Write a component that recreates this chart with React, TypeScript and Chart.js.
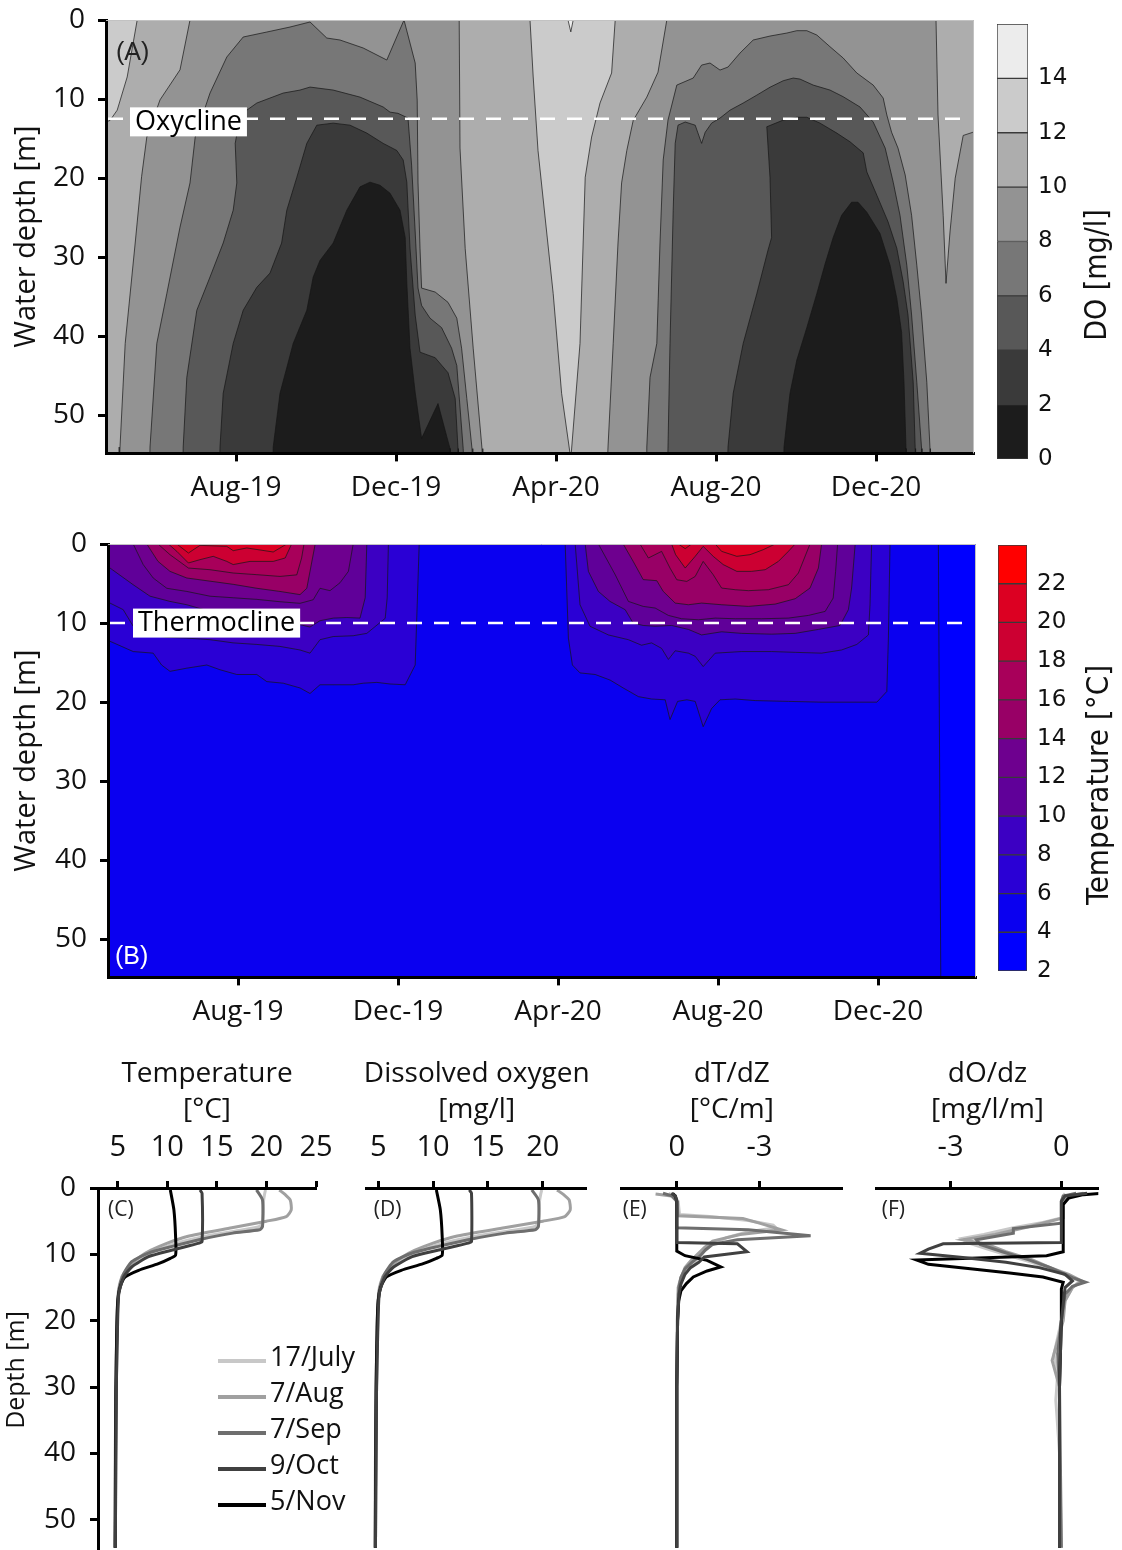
import React, { useEffect, useRef } from 'react';
import { Chart, registerables } from 'chart.js';

Chart.register(...registerables);

type Pt = [number, number];

const SANS = '"Open Sans", "DejaVu Sans", Arial, sans-serif';
const WIDE = '"DejaVu Sans", Verdana, sans-serif';
const NARROW = '"DejaVu Sans Condensed", "Liberation Sans Narrow", "Arial Narrow", sans-serif';

// ===== shared axes (time = months since Jan-2019, depth in m) =====
const timeTickValues = [7, 11, 15, 19, 23];
const timeTickLabels = ['Aug-19', 'Dec-19', 'Apr-20', 'Aug-20', 'Dec-20'];
const timeMin = 3.75;
const timeMax = 25.45;
const depthMax = 54.8;
const depthTicks = [0, 10, 20, 30, 40, 50];

// ===== Panel A : dissolved oxygen contours =====
const doLevels = [0, 2, 4, 6, 8, 10, 12, 14, 16];
const doColors = ['#1c1c1c', '#3a3a3a', '#585858', '#777777', '#939393', '#adadad', '#cbcbcb', '#ececec'];
const doTickValues = [0, 2, 4, 6, 8, 10, 12, 14];
const oxyclineDepth = 12.5;
const oxyclineSpan = [3.8, 25.2];

const DO_BACKGROUND_8_10: Pt[] = [[3.5, -2], [26, -2], [26, 57], [3.5, 57]];
const DO_10_12_JUN19: Pt[] = [[3.5, -2], [5.9, -2], [5.85, 0], [5.6, 6.3], [5.1, 10.1], [4.77, 14.8], [4.64, 19.8], [4.48, 28.2], [4.23, 40.9], [4.1, 54], [4.08, 57], [3.5, 57]];
const DO_12_14_JUN19: Pt[] = [[3.5, -2], [4.55, -2], [4.53, 0], [4.28, 7.2], [4.03, 11.4], [3.85, 12.7], [3.5, 13.3]];
const DO_10_12_WINTER: Pt[] = [[12.58, -2], [12.58, 0], [12.6, 16.2], [12.73, 28.9], [12.93, 41.5], [13.15, 54.2], [13.17, 57], [16.28, 57], [16.3, 54], [16.43, 40.9], [16.55, 28.2], [16.64, 20.6], [16.77, 16.5], [16.93, 12.7], [17.27, 9.75], [17.55, 6.6], [17.77, 0], [17.78, -2]];
const DO_12_14_SPRING: Pt[] = [[14.34, -2], [14.35, 0], [14.43, 7.2], [14.55, 16.5], [14.93, 34.6], [15.14, 47.2], [15.37, 55.5], [15.6, 40.9], [15.73, 19.9], [15.89, 14.8], [16.1, 10.5], [16.39, 6.7], [16.48, 0], [16.49, -2]];
const DO_14_16_SPRING: Pt[] = [[15.28, -2], [15.3, 0], [15.37, 1.5], [15.43, 0], [15.45, -2]];
const DO_10_12_FEB21: Pt[] = [[24.5, -2], [24.5, 0], [24.55, 12], [24.68, 24.7], [24.75, 33.3], [24.85, 26.8], [24.98, 20], [25.18, 14.6], [25.42, 14.2], [25.7, 14.1], [25.7, -2]];
const DO_6_8_2019: Pt[] = [[4.84, 57], [4.85, 54], [5.02, 40.9], [5.27, 34.6], [5.6, 26.2], [5.85, 20.6], [5.98, 14.8], [6.35, 9.24], [6.77, 4.68], [7.18, 2.15], [7.77, 1.52], [8.35, 0.89], [8.85, 0.25], [9.27, 2.28], [9.6, 2.53], [10.18, 3.54], [10.77, 5.06], [11.2, 0], [11.48, 5.44], [11.53, 10.13], [11.55, 20.5], [11.6, 28.86], [11.64, 33.9], [11.98, 34.4], [12.3, 35.7], [12.52, 37.7], [12.64, 41.5], [12.77, 47.85], [12.9, 54.2], [12.92, 57]];
const DO_4_6_2019: Pt[] = [[5.67, 57], [5.68, 54], [5.77, 45.2], [6.02, 36.7], [6.35, 32.5], [6.68, 28.2], [6.93, 24.05], [7.02, 20.6], [6.98, 15.6], [7.1, 12.3], [7.27, 11.4], [7.52, 10.5], [8.18, 9.24], [8.6, 8.86], [8.85, 8.48], [9.43, 8.86], [10.1, 9.75], [10.68, 11.0], [10.85, 11.65], [11.05, 11.8], [11.3, 12.4], [11.39, 18.35], [11.48, 26.8], [11.55, 33.9], [11.64, 36.1], [11.85, 37.7], [12.14, 38.9], [12.39, 41.5], [12.52, 43.7], [12.68, 54.2], [12.7, 57]];
const DO_2_4_2019: Pt[] = [[6.59, 57], [6.6, 54], [6.68, 47.2], [6.93, 40.9], [7.18, 36.7], [7.52, 33.8], [7.85, 32.0], [8.14, 28.2], [8.27, 24.05], [8.52, 19.9], [8.77, 15.6], [9.02, 13.3], [9.43, 13.04], [9.85, 13.3], [10.27, 14.3], [10.68, 15.6], [11.02, 16.5], [11.18, 17.7], [11.27, 20.5], [11.35, 28.86], [11.48, 37.3], [11.6, 42.0], [11.98, 42.7], [12.3, 44.6], [12.48, 47.85], [12.55, 54.2], [12.56, 57]];
const DO_0_2_2019: Pt[] = [[7.92, 57], [7.93, 54], [8.1, 47.2], [8.43, 40.9], [8.77, 36.7], [8.93, 32.5], [9.1, 30.4], [9.43, 28.2], [9.77, 24.05], [10.1, 21.1], [10.35, 20.5], [10.6, 20.9], [10.85, 21.9], [11.1, 24.05], [11.23, 27.5], [11.27, 33.2], [11.35, 41.5], [11.48, 47.1], [11.64, 52.9], [12.05, 48.5], [12.35, 54.2], [12.36, 57]];
const DO_6_8_2020: Pt[] = [[17.26, 57], [17.27, 54], [17.35, 45.2], [17.52, 40.9], [17.6, 28.2], [17.68, 17.7], [17.8, 12.66], [18.02, 8.23], [18.43, 7.34], [18.64, 5.7], [18.85, 5.44], [19.1, 6.33], [19.3, 5.95], [19.6, 4.18], [19.93, 2.53], [20.35, 2.03], [20.77, 1.65], [21.02, 1.35], [21.27, 1.35], [21.52, 1.9], [21.85, 3.38], [22.18, 4.81], [22.52, 6.7], [22.93, 8.23], [23.18, 9.87], [23.27, 12.0], [23.39, 14.2], [23.55, 16.2], [23.73, 19.6], [23.89, 24.7], [24.02, 31.0], [24.14, 37.3], [24.27, 45.8], [24.35, 54.2], [24.36, 57]];
const DO_4_6_2020: Pt[] = [[17.79, 57], [17.8, 54], [17.85, 40.9], [17.93, 24.05], [17.98, 15.6], [18.05, 13.3], [18.23, 12.9], [18.48, 13.3], [18.64, 15.6], [18.73, 14.2], [18.89, 13.04], [19.1, 12.4], [19.35, 11.4], [19.68, 10.5], [20.02, 9.5], [20.35, 8.5], [20.68, 7.68], [20.93, 7.34], [21.1, 7.47], [21.43, 8.23], [21.85, 8.86], [22.18, 9.7], [22.6, 11.0], [22.93, 12.9], [23.23, 16.2], [23.43, 20.5], [23.6, 24.7], [23.77, 31.0], [23.89, 37.3], [24.02, 45.8], [24.14, 54.2], [24.15, 57]];
const DO_2_4_2020: Pt[] = [[19.29, 57], [19.3, 54], [19.43, 47.2], [19.68, 40.9], [20.02, 34.6], [20.3, 29.1], [20.39, 27.5], [20.35, 19.9], [20.27, 13.5], [20.68, 12.66], [21.02, 12.3], [21.27, 12.3], [21.6, 13.04], [22.02, 14.3], [22.35, 15.4], [22.68, 16.8], [22.77, 19.2], [23.02, 22.15], [23.3, 25.5], [23.52, 28.86], [23.68, 33.1], [23.8, 37.3], [23.93, 45.8], [23.98, 54.2], [23.99, 57]];
const DO_0_2_2020: Pt[] = [[20.69, 57], [20.7, 54], [20.85, 47.2], [21.02, 43.0], [21.27, 38.9], [21.52, 34.6], [21.73, 30.8], [21.93, 27.5], [22.14, 24.7], [22.39, 23.04], [22.55, 23.04], [22.77, 24.3], [23.1, 27.0], [23.35, 31.0], [23.52, 35.2], [23.64, 39.5], [23.7, 45.8], [23.75, 54.2], [23.76, 57]];

// band index refers to doLevels (band k = doLevels[k]..doLevels[k+1]); listed in paint order
const doRegions = [
  { band: 4, poly: DO_BACKGROUND_8_10 },
  { band: 5, poly: DO_10_12_JUN19 },
  { band: 6, poly: DO_12_14_JUN19 },
  { band: 5, poly: DO_10_12_WINTER },
  { band: 6, poly: DO_12_14_SPRING },
  { band: 7, poly: DO_14_16_SPRING },
  { band: 5, poly: DO_10_12_FEB21 },
  { band: 3, poly: DO_6_8_2019 },
  { band: 2, poly: DO_4_6_2019 },
  { band: 1, poly: DO_2_4_2019 },
  { band: 0, poly: DO_0_2_2019 },
  { band: 3, poly: DO_6_8_2020 },
  { band: 2, poly: DO_4_6_2020 },
  { band: 1, poly: DO_2_4_2020 },
  { band: 0, poly: DO_0_2_2020 },
];

// ===== Panel B : temperature contours =====
const tempLevels = [2, 4, 6, 8, 10, 12, 14, 16, 18, 20, 22, 24];
const tempColors = ['#0000ff', '#0a00f0', '#2a00d5', '#3c00c3', '#600099', '#6e008f', '#980066', '#a8005a', '#cc0032', '#dc0022', '#ff0000'];
const tempTickValues = [2, 4, 6, 8, 10, 12, 14, 16, 18, 20, 22];
const thermoclineDepth = 10;
const thermoclineSpan = [3.8, 25.25];

const T_BACKGROUND_4_6: Pt[] = [[3.5, -2], [26, -2], [26, 57], [3.5, 57]];
const T_2_4_FEB21: Pt[] = [[24.51, -2], [24.51, 0], [24.57, 55], [24.57, 57], [26, 57], [26, -2]];
const T_6_8_2019: Pt[] = [[3.5, -2], [3.5, 12.3], [3.8, 12.3], [4.38, 13.6], [4.88, 13.8], [5.09, 15.3], [5.3, 16.1], [5.72, 15.7], [6.22, 15.3], [6.55, 15.9], [6.97, 16.5], [7.47, 16.5], [7.72, 17.4], [8.13, 17.6], [8.55, 18.2], [8.8, 18.9], [9.05, 17.8], [9.38, 17.8], [9.88, 17.8], [10.13, 17.6], [10.47, 17.5], [10.8, 17.7], [11.18, 17.8], [11.43, 15.3], [11.48, 7.7], [11.53, 0], [11.53, -2]];
const T_8_10_2019: Pt[] = [[3.5, -2], [3.5, 7.4], [3.8, 7.47], [4.13, 8.3], [4.38, 10.4], [4.8, 11.5], [5.22, 11.8], [5.72, 11.9], [6.3, 12.1], [6.88, 12.5], [7.47, 12.7], [8.05, 12.95], [8.55, 13.4], [8.8, 13.8], [9.05, 12.1], [9.38, 11.7], [9.88, 11.6], [10.22, 11.3], [10.68, 9.4], [10.73, 6.8], [10.76, 0], [10.76, -2]];
const T_10_12_2019: Pt[] = [[3.5, -2], [3.5, 3.0], [3.8, 3.04], [4.38, 5.15], [4.8, 6.6], [5.3, 7.26], [5.72, 7.68], [6.3, 8.52], [6.88, 9.16], [7.47, 9.37], [8.05, 9.79], [8.55, 10.2], [8.8, 10.5], [9.05, 9.7], [9.38, 9.37], [9.72, 9.3], [10.05, 9.37], [10.18, 6.8], [10.22, 0], [10.22, -2]];
const T_12_14_2019: Pt[] = [[4.37, -2], [4.38, 0], [4.63, 2.6], [4.88, 4.3], [5.22, 5.6], [5.72, 6.0], [6.3, 6.6], [6.88, 6.8], [7.47, 7.0], [8.05, 7.3], [8.55, 7.5], [8.88, 7.05], [9.05, 5.6], [9.3, 5.9], [9.55, 4.9], [9.76, 3.46], [9.88, 0], [9.88, -2]];
const T_14_16_2019: Pt[] = [[4.71, -2], [4.72, 0], [5.0, 2.2], [5.3, 3.46], [5.72, 4.3], [6.3, 4.7], [6.88, 5.1], [7.47, 5.6], [8.05, 6.0], [8.55, 6.4], [8.72, 5.6], [8.8, 3.46], [8.93, 0], [8.93, -2]];
const T_16_18_2019: Pt[] = [[4.99, -2], [5.0, 0], [5.3, 1.35], [5.76, 3.04], [6.3, 3.25], [6.88, 3.67], [7.47, 3.88], [8.05, 4.1], [8.47, 3.9], [8.59, 1.77], [8.65, 0], [8.65, -2]];
const T_18_20_2019: Pt[] = [[5.25, -2], [5.26, 0], [5.47, 0.93], [5.76, 2.4], [6.05, 1.98], [6.38, 1.56], [6.72, 2.2], [6.88, 2.6], [7.3, 2.2], [7.88, 2.2], [8.18, 1.77], [8.34, 0], [8.34, -2]];
const T_20_22_2019: Pt[] = [[5.46, -2], [5.47, 0], [5.76, 1.14], [6.05, 0.17], [6.72, 0.3], [6.88, 0.84], [7.22, 0.5], [7.88, 1.01], [8.22, 0], [8.22, -2]];
const T_6_8_2020: Pt[] = [[15.18, -2], [15.18, 0], [15.26, 11.9], [15.36, 15.3], [15.55, 16.3], [15.93, 16.5], [16.3, 17.2], [16.63, 18.2], [17.01, 19.3], [17.34, 19.6], [17.68, 19.7], [17.8, 22.2], [17.99, 19.9], [18.22, 19.7], [18.43, 19.9], [18.63, 23.1], [18.84, 20.8], [19.05, 19.7], [19.43, 19.6], [19.93, 19.8], [20.76, 19.9], [21.6, 20.0], [22.43, 20.0], [22.97, 20.0], [23.22, 18.65], [23.26, 11.9], [23.3, 0], [23.3, -2]];
const T_8_10_2020: Pt[] = [[15.43, -2], [15.43, 0], [15.55, 7.68], [15.8, 10.4], [16.26, 11.5], [16.76, 12.1], [17.09, 12.8], [17.34, 12.5], [17.59, 13.2], [17.76, 14.6], [17.93, 13.5], [18.26, 13.8], [18.43, 14.2], [18.63, 15.5], [18.93, 13.8], [19.59, 13.6], [20.34, 13.6], [20.93, 13.7], [21.59, 13.8], [22.09, 13.4], [22.47, 12.7], [22.76, 11.5], [22.8, 7.68], [22.84, 0], [22.84, -2]];
const T_10_12_2020: Pt[] = [[15.68, -2], [15.68, 0], [15.76, 3.46], [16.01, 6.0], [16.3, 7.26], [16.68, 8.31], [16.88, 10.0], [17.13, 10.3], [17.43, 10.4], [17.84, 10.3], [18.26, 10.8], [18.59, 11.5], [19.09, 11.1], [19.59, 11.3], [20.34, 11.4], [20.93, 11.3], [21.51, 10.8], [22.05, 10.3], [22.26, 8.3], [22.34, 5.57], [22.43, 0], [22.43, -2]];
const T_12_14_2020: Pt[] = [[16.01, -2], [16.01, 0], [16.43, 3.88], [16.76, 7.26], [17.13, 7.89], [17.43, 8.1], [17.76, 9.03], [18.09, 9.45], [18.51, 9.58], [18.93, 9.37], [19.43, 9.45], [20.09, 9.45], [20.76, 9.37], [21.26, 9.03], [21.68, 8.52], [21.88, 6.83], [21.94, 3.46], [21.99, 0], [21.99, -2]];
const T_14_16_2020: Pt[] = [[16.63, -2], [16.63, 0], [16.88, 2.2], [17.13, 4.5], [17.47, 4.64], [17.63, 5.99], [17.93, 7.47], [18.26, 7.68], [18.59, 7.47], [19.09, 7.68], [19.76, 7.89], [20.43, 7.6], [20.93, 6.92], [21.3, 5.57], [21.51, 3.04], [21.59, 0], [21.59, -2]];
const T_16_18_2020: Pt[] = [[17.05, -2], [17.05, 0], [17.26, 1.77], [17.59, 0.93], [17.8, 3.04], [17.97, 4.52], [18.22, 4.73], [18.43, 4.1], [18.63, 2.2], [18.88, 3.88], [19.09, 5.57], [19.43, 5.78], [19.76, 5.9], [20.26, 5.78], [20.76, 5.15], [21.01, 3.67], [21.3, 0], [21.3, -2]];
const T_18_20_2020: Pt[] = [[17.84, -2], [17.84, 0], [17.94, 1.35], [18.18, 3.04], [18.43, 1.56], [18.63, 0.3], [18.88, 1.56], [19.13, 2.6], [19.47, 3.46], [19.84, 3.46], [20.18, 3.25], [20.51, 2.2], [20.76, 0.93], [20.93, 0], [20.93, -2]];
const T_20_22_2020A: Pt[] = [[18.0, -2], [18.01, 0], [18.18, 0.59], [18.34, 0], [18.35, -2]];
const T_20_22_2020B: Pt[] = [[18.92, -2], [18.93, 0], [19.09, 0.93], [19.47, 1.56], [19.8, 1.35], [20.13, 0.72], [20.43, 0], [20.44, -2]];

const tempRegions = [
  { band: 1, poly: T_BACKGROUND_4_6 },
  { band: 0, poly: T_2_4_FEB21 },
  { band: 2, poly: T_6_8_2019 },
  { band: 3, poly: T_8_10_2019 },
  { band: 4, poly: T_10_12_2019 },
  { band: 5, poly: T_12_14_2019 },
  { band: 6, poly: T_14_16_2019 },
  { band: 7, poly: T_16_18_2019 },
  { band: 8, poly: T_18_20_2019 },
  { band: 9, poly: T_20_22_2019 },
  { band: 2, poly: T_6_8_2020 },
  { band: 3, poly: T_8_10_2020 },
  { band: 4, poly: T_10_12_2020 },
  { band: 5, poly: T_12_14_2020 },
  { band: 6, poly: T_14_16_2020 },
  { band: 7, poly: T_16_18_2020 },
  { band: 8, poly: T_18_20_2020 },
  { band: 9, poly: T_20_22_2020A },
  { band: 9, poly: T_20_22_2020B },
];

// ===== Panels C-F : profiles =====
const profileDates = ['17/July', '7/Aug', '7/Sep', '9/Oct', '5/Nov'];
const profileColors = ['#c8c8c8', '#a0a0a0', '#6e6e6e', '#404040', '#000000'];
const profileOrder = [5, 4, 3, 1, 2];

// Temperature profiles (C) — the DO panel (D) shows the same curves
const tJulDepth = [0.3, 1, 2, 5, 5.8, 6.5, 7.3, 8.2, 9.2, 10.2, 11.2, 12.3, 13.5, 15, 18, 22, 30, 40, 54.2];
const tJul = [19.9, 19.8, 19.7, 19.6, 19.3, 16.8, 13.8, 11.2, 9.2, 7.8, 6.7, 5.9, 5.4, 5.1, 4.95, 4.9, 4.8, 4.75, 4.72];
const tAugDepth = [0.3, 1.0, 1.8, 3.3, 4.3, 5.0, 6.0, 7.3, 8.3, 9.4, 10.4, 11.4, 12.5, 13.4, 15.9, 20.9, 30, 40, 54.2];
const tAug = [21.3, 21.9, 22.4, 22.5, 22.0, 20.0, 16.5, 12.0, 10.0, 8.3, 7.2, 6.4, 5.8, 5.4, 5.07, 4.9, 4.8, 4.75, 4.72];
const tSepDepth = [0.3, 1.8, 5.8, 6.3, 6.8, 7.8, 8.8, 9.8, 11.1, 12.9, 15.4, 18.9, 30, 40, 54.2];
const tSep = [19.0, 19.6, 19.6, 19.3, 16.6, 13.2, 10.5, 8.1, 6.4, 5.6, 5.1, 4.97, 4.85, 4.8, 4.75];
const tOctDepth = [0.3, 0.8, 8.1, 8.3, 9.35, 10.35, 11.9, 13.4, 15.9, 20.9, 30, 40, 54.2];
const tOct = [13.3, 13.5, 13.5, 13.2, 10.5, 8.1, 6.4, 5.6, 5.1, 4.97, 4.85, 4.8, 4.75];
const tNovDepth = [0.3, 3.3, 7.3, 10.1, 10.6, 11.4, 12.4, 13.4, 14.9, 16.9, 20.9, 31, 54.2];
const tNov = [10.3, 10.66, 10.83, 10.83, 10.3, 9.1, 7.1, 5.75, 5.24, 5.0, 4.9, 4.8, 4.73];

// dT/dz profiles (E)
const gtJulDepth = [0.8, 1.2, 2, 4.0, 4.3, 4.9, 5.6, 6.0, 6.6, 7.5, 8.5, 9.5, 10.5, 11.5, 12.5, 14, 16, 20, 30, 54.2];
const gtJul = [0.3, 0.1, -0.05, -0.1, -1.2, -2.6, -3.5, -3.6, -2.6, -1.8, -1.3, -1.0, -0.8, -0.55, -0.35, -0.15, -0.05, -0.02, 0, 0];
const gtAugDepth = [0.9, 1.2, 2, 4.2, 4.6, 5.3, 6.3, 7.0, 8.0, 9.0, 10.0, 11.0, 12.0, 13.5, 15, 20, 30, 54.2];
const gtAug = [0.77, 0.2, 0, -0.05, -2.4, -3.0, -3.8, -2.3, -1.3, -1.0, -0.75, -0.5, -0.3, -0.15, -0.05, -0.02, 0, 0];
const gtSepDepth = [0.8, 1.2, 2, 6.0, 6.3, 7.2, 7.8, 8.5, 9.3, 10.2, 11.2, 12.2, 13.5, 15, 20, 30, 54.2];
const gtSep = [0.5, 0.15, 0, 0, -2.6, -4.86, -2.2, -1.3, -1.05, -0.85, -0.55, -0.3, -0.15, -0.08, -0.03, 0, 0];
const gtOctDepth = [0.8, 1.2, 2, 8.2, 8.4, 9.6, 10.4, 11.2, 12.0, 13.0, 14.5, 16, 20, 30, 54.2];
const gtOct = [0.2, 0.05, 0, 0, -2.2, -2.55, -1.0, -0.8, -0.5, -0.3, -0.15, -0.08, -0.03, 0, 0];
const gtNovDepth = [0.8, 1.2, 2, 9.5, 10.2, 10.9, 11.9, 12.5, 13.4, 14.4, 15.5, 17, 20, 30, 54.2];
const gtNov = [0.15, 0.05, 0, 0, -0.3, -1.1, -1.6, -1.1, -0.6, -0.35, -0.15, -0.07, -0.03, 0, 0];

// dO/dz profiles (F)
const goJulDepth = [0.8, 1.2, 2, 4.5, 5.2, 6.0, 7.0, 7.6, 8.3, 9.2, 10.2, 11.2, 12.2, 13.2, 14.0, 15.0, 17, 20, 25, 28, 32, 40, 54.2];
const goJul = [0.1, 0.05, 0, 0, -0.5, -1.3, -2.1, -2.7, -2.5, -2.0, -1.4, -0.8, -0.3, 0.15, 0.5, 0.3, 0.1, 0, -0.2, -0.1, -0.15, -0.05, 0];
const goAugDepth = [0.8, 1.2, 2, 4.5, 5.0, 6.0, 7.0, 7.8, 8.5, 9.6, 10.8, 12.0, 13.0, 14.0, 15.0, 17, 20, 23, 26, 30, 54.2];
const goAug = [0.6, 0.15, 0.05, 0.05, -0.3, -1.0, -1.8, -2.66, -2.0, -1.5, -0.8, -0.3, 0.2, 0.55, 0.3, 0.1, 0.05, -0.1, -0.25, -0.05, -0.05];
const goSepDepth = [0.8, 1.2, 2, 5.3, 6.1, 6.8, 7.8, 8.5, 9.6, 10.8, 12.0, 13.5, 14.2, 14.8, 16, 20, 25, 30, 54.2];
const goSep = [0.4, 0.05, 0, 0, -1.3, -1.3, -2.3, -2.2, -1.6, -0.9, -0.3, 0.3, 0.65, 0.3, 0.1, 0, -0.1, -0.05, 0];
const goOctDepth = [0.8, 1.2, 2, 8.2, 8.4, 9.2, 9.85, 10.5, 11.2, 12.0, 13.0, 14.0, 15.0, 20, 30, 54.2];
const goOct = [0.7, 0.1, 0, 0, -3.2, -3.6, -3.83, -2.6, -1.5, -0.6, 0.1, 0.3, 0.1, 0, -0.05, -0.05];
const goNovDepth = [0.8, 1.0, 1.5, 2.5, 9.6, 10.2, 10.85, 11.5, 12.2, 12.8, 13.4, 14.2, 15.2, 20, 30, 40, 54.2];
const goNov = [1.13, 0.6, 0.2, 0.05, 0.05, -0.4, -3.92, -3.6, -2.4, -1.4, -0.5, 0.05, 0, 0, -0.05, -0.05, -0.05];

const tempProfileTicks = [5, 10, 15, 20, 25];
const doProfileTicks = [5, 10, 15, 20];
const dTdzTicks = [0, -3];
const dOdzTicks = [-3, 0];

// ================= helpers =================
function txt(ctx: any, s: string, x: number, y: number, size: number, o: any = {}) {
  ctx.save();
  ctx.font = `${o.weight || 'normal'} ${size}px ${o.family || SANS}`;
  ctx.fillStyle = o.color || '#111';
  ctx.textAlign = o.align || 'center';
  ctx.textBaseline = 'middle';
  ctx.translate(x, y);
  if (o.rot) ctx.rotate(o.rot);
  ctx.fillText(s, 0, 0);
  ctx.restore();
}

function labelBox(ctx: any, s: string, x: number, y: number, size: number) {
  ctx.save();
  ctx.font = `${size}px ${SANS}`;
  const w = ctx.measureText(s).width + 10;
  ctx.fillStyle = '#ffffff';
  ctx.fillRect(x, y - 14.5, w, 29);
  ctx.restore();
  txt(ctx, s, x + 5, y, size, { align: 'left', color: '#000' });
}

const tickGrid = (len: number) => ({ display: true, drawOnChartArea: false, drawTicks: true, tickLength: len, tickWidth: 3, tickColor: '#000' });
const blackBorder = { display: true, color: '#000', width: 3, z: 1 };

function contourConfig(o: any) {
  const datasets: any[] = o.regions.map((r: any, i: number) => ({
    data: r.poly.concat([r.poly[0]]).map((p: Pt) => ({ x: p[0], y: p[1] })),
    showLine: true,
    fill: 'shape',
    backgroundColor: o.colors[r.band],
    borderColor: '#161616',
    borderWidth: 0.7,
    pointRadius: 0,
    pointHoverRadius: 0,
    tension: 0,
    order: o.regions.length + 2 - i,
  }));
  datasets.push({
    data: [{ x: o.lineSpan[0], y: o.lineDepth }, { x: o.lineSpan[1], y: o.lineDepth }],
    showLine: true, fill: false, borderColor: '#ffffff', borderWidth: 2.5, borderDash: [15, 12],
    pointRadius: 0, order: 0,
  });
  return {
    type: 'scatter',
    data: { datasets },
    options: {
      responsive: false, animation: false, devicePixelRatio: 1, events: [],
      layout: { padding: { left: 0, top: 50, right: o.padRight, bottom: 0 } },
      plugins: { legend: { display: false }, tooltip: { enabled: false } },
      scales: {
        x: {
          type: 'linear', position: 'bottom', min: timeMin, max: timeMax,
          afterBuildTicks: (ax: any) => { ax.ticks = timeTickValues.map((value) => ({ value })); },
          afterFit: (ax: any) => { ax.height = 71.6; },
          ticks: {
            callback: (v: any) => timeTickLabels[timeTickValues.indexOf(v)] ?? '',
            font: { family: SANS, size: 28 }, color: '#111', padding: 10, maxRotation: 0, autoSkip: false,
          },
          grid: tickGrid(8),
          border: blackBorder,
        },
        y: {
          type: 'linear', reverse: true, min: 0, max: depthMax,
          afterBuildTicks: (ax: any) => { ax.ticks = depthTicks.map((value) => ({ value })); },
          afterFit: (ax: any) => { ax.width = o.yWidth; },
          ticks: { font: { family: SANS, size: 28 }, color: '#111', padding: 13 },
          grid: tickGrid(8),
          border: blackBorder,
        },
      },
    },
    plugins: [{ id: 'deco', afterDraw: (c: any) => o.draw(c) }],
  };
}

function colorbarConfig(o: any) {
  return {
    type: 'bar',
    data: {
      labels: [''],
      datasets: o.colors.map((c: string, i: number) => ({
        data: [[o.levels[i], o.levels[i + 1]]],
        backgroundColor: c, borderColor: '#3a3a3a', borderWidth: 1, borderSkipped: false,
        barPercentage: 1, categoryPercentage: 1, grouped: false,
      })),
    },
    options: {
      responsive: false, animation: false, devicePixelRatio: 1, events: [],
      layout: { padding: { top: 30, bottom: 30, left: o.padLeft, right: 0 } },
      plugins: { legend: { display: false }, tooltip: { enabled: false } },
      scales: {
        x: { display: false },
        y: {
          position: 'right', min: o.levels[0], max: o.levels[o.levels.length - 1],
          afterBuildTicks: (ax: any) => { ax.ticks = o.ticks.map((value: number) => ({ value })); },
          afterFit: (ax: any) => { ax.width = o.yWidth; },
          ticks: { font: { family: WIDE, size: 23 }, color: '#111', padding: 10 },
          grid: { display: false, drawTicks: false },
          border: { display: false },
        },
      },
    },
    plugins: [{
      id: 'cbTitle',
      afterDraw: (c: any) => txt(c.ctx, o.title, o.titleX, o.titleY, o.titleSize, { family: NARROW, rot: -Math.PI / 2 }),
    }],
  };
}

function profileSeries(values: number[][], depths: number[][]) {
  return profileDates.map((label, i) => ({ label, color: profileColors[i], order: profileOrder[i], v: values[i], d: depths[i] }));
}

function profileConfig(o: any) {
  const datasets = o.series.map((s: any) => ({
    label: s.label,
    data: s.d.map((d: number, k: number) => ({ x: s.v[k], y: d })),
    showLine: true, fill: false, borderColor: s.color, borderWidth: 3, pointRadius: 0, pointHoverRadius: 0,
    tension: o.tension, order: s.order,
  }));
  const yScale: any = {
    display: o.showY, type: 'linear', reverse: true, min: 0, max: 55,
    afterBuildTicks: (ax: any) => { ax.ticks = depthTicks.map((value) => ({ value })); },
    ticks: { font: { family: SANS, size: 28 }, color: '#111', padding: 14 },
    grid: tickGrid(8),
    border: blackBorder,
  };
  if (o.showY) yScale.afterFit = (ax: any) => { ax.width = 98; };
  return {
    type: 'scatter',
    data: { datasets },
    options: {
      responsive: false, animation: false, devicePixelRatio: 1, events: [],
      layout: { padding: { left: o.padLeft, right: o.padRight, top: 0, bottom: 32 } },
      plugins: { legend: { display: false }, tooltip: { enabled: false } },
      scales: {
        x: {
          type: 'linear', position: 'top', min: o.xMin, max: o.xMax, reverse: !!o.reverse,
          afterBuildTicks: (ax: any) => { ax.ticks = o.xTicks.map((value: number) => ({ value })); },
          afterFit: (ax: any) => { ax.height = 148; },
          ticks: {
            callback: (v: any) => String(v),
            font: { family: SANS, size: 29 }, color: '#111', padding: 16, maxRotation: 0, autoSkip: false,
          },
          grid: tickGrid(7),
          border: blackBorder,
        },
        y: yScale,
      },
    },
    plugins: [{
      id: 'profDeco',
      afterDraw: (c: any) => {
        const { ctx, chartArea: a } = c;
        const cx = (a.left + a.right) / 2;
        txt(ctx, o.title[0], cx, 34, 28, { color: '#111' });
        txt(ctx, o.title[1], cx, 70, 28, { color: '#111' });
        txt(ctx, `(${o.panel})`, a.left + o.panelDx, a.top + 22, 21, { align: 'left', color: '#222' });
        if (o.extra) o.extra(c);
      },
    }],
  };
}

function ChartCanvas({ x, y, w, h, make }: any) {
  const ref = useRef<HTMLCanvasElement | null>(null);
  useEffect(() => {
    if (!ref.current) return;
    const chart = new Chart(ref.current, make());
    return () => chart.destroy();
  }, []);
  return <canvas ref={ref} width={w} height={h} style={{ position: 'absolute', left: x, top: y, width: w, height: h }} />;
}

// ================= chart builders =================
const drawFrame = (ctx: any, a: any) => {
  ctx.save();
  ctx.strokeStyle = '#c2c2c2'; ctx.lineWidth = 1;
  ctx.beginPath(); ctx.moveTo(a.left, a.top + 0.5); ctx.lineTo(a.right - 0.5, a.top + 0.5); ctx.lineTo(a.right - 0.5, a.bottom); ctx.stroke();
  ctx.restore();
};

const buildA = () => contourConfig({
  regions: doRegions, colors: doColors, lineDepth: oxyclineDepth, lineSpan: oxyclineSpan, yWidth: 106, padRight: 16,
  draw: (c: any) => {
    const { ctx, chartArea: a, scales } = c;
    drawFrame(ctx, a);
    labelBox(ctx, 'Oxycline', a.left + 24, scales.y.getPixelForValue(oxyclineDepth) + 3, 27);
    txt(ctx, '(A)', a.left + 10, a.top + 33, 25, { align: 'left', color: '#222', family: '"Liberation Sans", Arial, sans-serif' });
    txt(ctx, 'Water depth [m]', 27, (a.top + a.bottom) / 2, 29, { rot: -Math.PI / 2, color: '#111' });
  },
});

const buildB = () => contourConfig({
  regions: tempRegions, colors: tempColors, lineDepth: thermoclineDepth, lineSpan: thermoclineSpan, yWidth: 108, padRight: 14,
  draw: (c: any) => {
    const { ctx, chartArea: a, scales } = c;
    drawFrame(ctx, a);
    labelBox(ctx, 'Thermocline', a.left + 25, scales.y.getPixelForValue(thermoclineDepth), 27);
    txt(ctx, '(B)', a.left + 7, a.bottom - 20, 25, { align: 'left', color: '#ffffff', family: '"Liberation Sans", Arial, sans-serif' });
    txt(ctx, 'Water depth [m]', 27, (a.top + a.bottom) / 2, 29, { rot: -Math.PI / 2, color: '#111' });
  },
});

const buildCbA = () => colorbarConfig({ levels: doLevels, colors: doColors, ticks: doTickValues, padLeft: 7, yWidth: 94, title: 'DO [mg/l]', titleX: 108, titleY: 281, titleSize: 30 });
const buildCbB = () => colorbarConfig({ levels: tempLevels, colors: tempColors, ticks: tempTickValues, padLeft: 8, yWidth: 95, title: 'Temperature [°C]', titleX: 110, titleY: 270, titleSize: 31 });

const buildC = () => profileConfig({
  series: profileSeries([tJul, tAug, tSep, tOct, tNov], [tJulDepth, tAugDepth, tSepDepth, tOctDepth, tNovDepth]),
  xMin: 3, xMax: 25, xTicks: tempProfileTicks, showY: true, padLeft: 0, padRight: 44, tension: 0.2,
  title: ['Temperature', '[°C]'], panel: 'C', panelDx: 10,
  extra: (c: any) => {
    const { ctx } = c;
    txt(ctx, 'Depth [m]', 17, 330, 25, { rot: -Math.PI / 2, color: '#111' });
    profileDates.forEach((lab, i) => {
      const y = 318 + 36 * i;
      ctx.save();
      ctx.strokeStyle = profileColors[i]; ctx.lineWidth = 4;
      ctx.beginPath(); ctx.moveTo(218, y + 3); ctx.lineTo(266, y + 3); ctx.stroke();
      ctx.restore();
      txt(ctx, lab, 270, y, 27, { align: 'left', color: '#111' });
    });
  },
});

const buildD = () => profileConfig({
  series: profileSeries([tJul, tAug, tSep, tOct, tNov], [tJulDepth, tAugDepth, tSepDepth, tOctDepth, tNovDepth]),
  xMin: 3.95, xMax: 24, xTicks: doProfileTicks, showY: false, padLeft: 21.7, padRight: 23.3, tension: 0.2,
  title: ['Dissolved oxygen', '[mg/l]'], panel: 'D', panelDx: 7,
});

const buildE = () => profileConfig({
  series: profileSeries([gtJul, gtAug, gtSep, gtOct, gtNov], [gtJulDepth, gtAugDepth, gtSepDepth, gtOctDepth, gtNovDepth]),
  xMin: -6, xMax: 2, reverse: true, xTicks: dTdzTicks, showY: false, padLeft: 9.7, padRight: 15, tension: 0,
  title: ['dT/dZ', '[°C/m]'], panel: 'E', panelDx: 1,
});

const buildF = () => profileConfig({
  series: profileSeries([goJul, goAug, goSep, goOct, goNov], [goJulDepth, goAugDepth, goSepDepth, goOctDepth, goNovDepth]),
  xMin: -5, xMax: 1, xTicks: dOdzTicks, showY: false, padLeft: 11.7, padRight: 23.7, tension: 0,
  title: ['dO/dz', '[mg/l/m]'], panel: 'F', panelDx: 5,
});

export default function App() {
  return (
    <div style={{ position: 'absolute', left: 0, top: 0, width: 1122, height: 1550, overflow: 'hidden', background: '#ffffff' }}>
      <ChartCanvas x={0} y={-30} w={990} h={555} make={buildA} />
      <ChartCanvas x={990} y={-6} w={132} h={495} make={buildCbA} />
      <ChartCanvas x={0} y={494} w={990} h={555} make={buildB} />
      <ChartCanvas x={990} y={515} w={132} h={486} make={buildCbB} />
      <ChartCanvas x={0} y={1040} w={360} h={545} make={buildC} />
      <ChartCanvas x={345} y={1040} w={265} h={545} make={buildD} />
      <ChartCanvas x={612} y={1040} w={245} h={545} make={buildE} />
      <ChartCanvas x={865} y={1040} w={257} h={545} make={buildF} />
    </div>
  );
}
